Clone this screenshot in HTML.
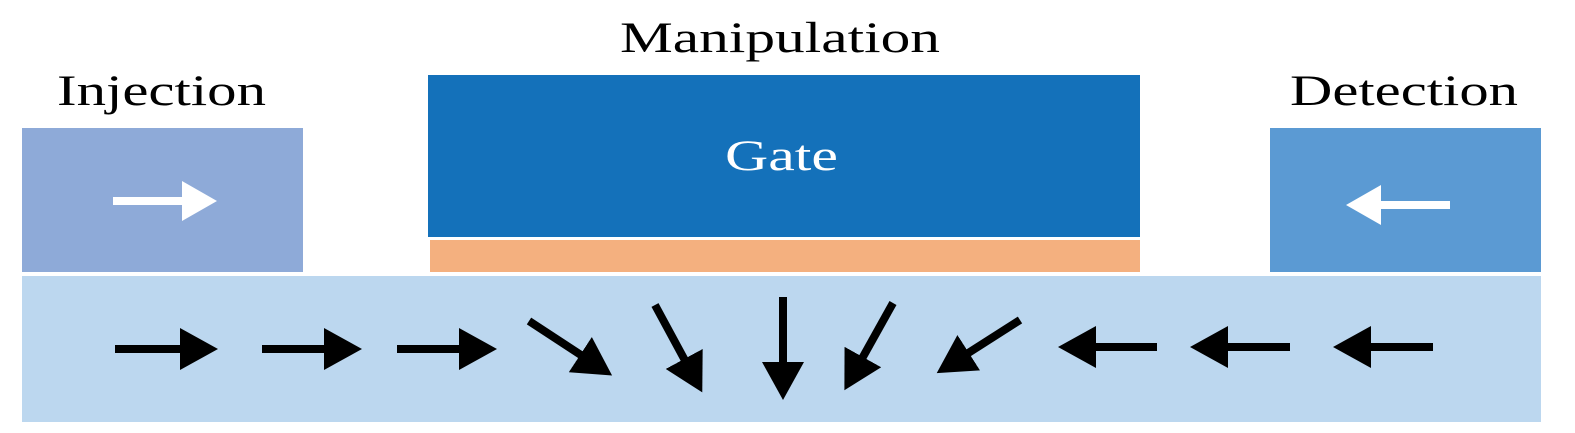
<!DOCTYPE html>
<html><head><meta charset="utf-8"><style>
html,body{margin:0;padding:0;background:#fff;}
svg{display:block;}
text{font-family:"Liberation Serif","DejaVu Serif",serif;}
</style></head><body>
<svg width="1575" height="433" viewBox="0 0 1575 433" xmlns="http://www.w3.org/2000/svg">
<defs>
<marker id="b" markerUnits="userSpaceOnUse" markerWidth="40" markerHeight="42" refX="8" refY="21" orient="auto" viewBox="0 0 40 42"><path d="M0,0 L38,21 L0,42 Z" fill="#000"/></marker>
<marker id="w" markerUnits="userSpaceOnUse" markerWidth="36" markerHeight="40" refX="8" refY="20" orient="auto" viewBox="0 0 36 40"><path d="M0,0 L35,20 L0,40 Z" fill="#fff"/></marker>
</defs>
<rect x="22" y="128" width="281" height="144" fill="#8eaad8"/>
<rect x="1270" y="128" width="271" height="144" fill="#5b9ad3"/>
<rect x="428" y="75" width="712" height="162" fill="#1471ba"/>
<rect x="430" y="240" width="710" height="32" fill="#f4b07f"/>
<rect x="22" y="276" width="1519" height="146" fill="#bcd7ef"/>
<text x="57" y="105" font-size="43" textLength="209" lengthAdjust="spacingAndGlyphs">Injection</text>
<text x="1290" y="105" font-size="43" textLength="228" lengthAdjust="spacingAndGlyphs">Detection</text>
<text x="620" y="52" font-size="43" textLength="320" lengthAdjust="spacingAndGlyphs">Manipulation</text>
<text x="725" y="170" font-size="43" textLength="113" lengthAdjust="spacingAndGlyphs" fill="#fff">Gate</text>
<g stroke="#fff" stroke-width="8" fill="none">
<line x1="113" y1="201" x2="190" y2="201" marker-end="url(#w)"/>
<line x1="1450" y1="205" x2="1373" y2="205" marker-end="url(#w)"/>
</g>
<g stroke="#000" stroke-width="8" fill="none">
<line x1="115" y1="349" x2="188" y2="349" marker-end="url(#b)"/>
<line x1="262" y1="349" x2="332" y2="349" marker-end="url(#b)"/>
<line x1="397" y1="349" x2="467" y2="349" marker-end="url(#b)"/>
<line x1="529" y1="321" x2="587" y2="359" marker-end="url(#b)"/>
<line x1="655" y1="305" x2="688" y2="366" marker-end="url(#b)"/>
<line x1="783" y1="297" x2="783" y2="370" marker-end="url(#b)"/>
<line x1="893" y1="303" x2="859" y2="364" marker-end="url(#b)"/>
<line x1="1020" y1="320" x2="962" y2="357" marker-end="url(#b)"/>
<line x1="1157" y1="347" x2="1088" y2="347" marker-end="url(#b)"/>
<line x1="1290" y1="347" x2="1220" y2="347" marker-end="url(#b)"/>
<line x1="1433" y1="347" x2="1363" y2="347" marker-end="url(#b)"/>
</g>
</svg>
</body></html>
